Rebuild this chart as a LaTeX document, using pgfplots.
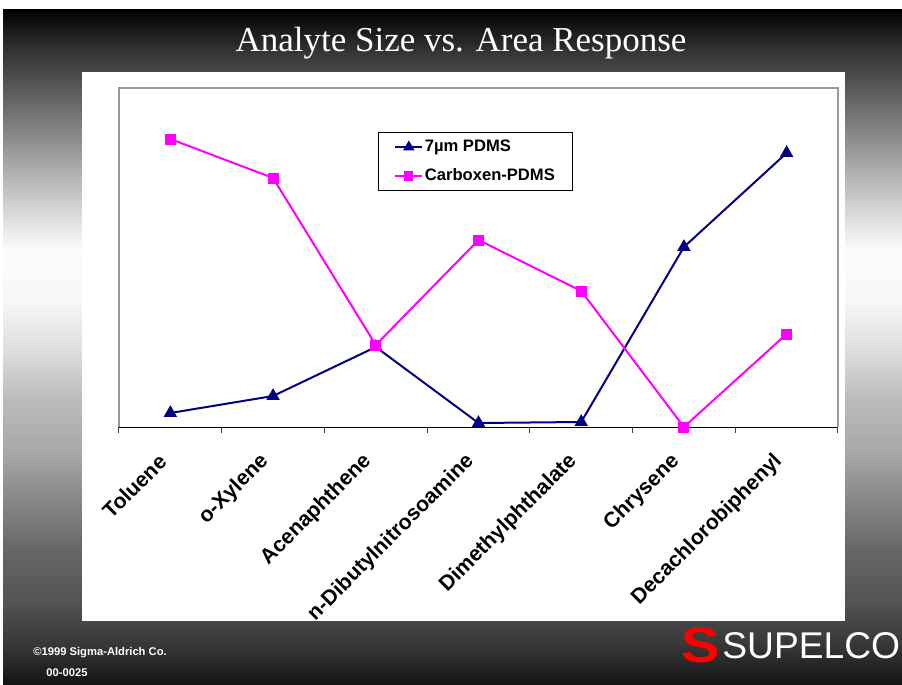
\documentclass[border=0pt]{standalone}
\usepackage{fontspec}
\setmainfont{Liberation Sans}
\newfontfamily\titlefont{Liberation Serif}
\usepackage{pgfplots}
\pgfplotsset{compat=1.18}
\definecolor{pdms}{HTML}{000080}
\definecolor{carb}{HTML}{FF00FF}

\begin{document}
\begin{tikzpicture}
% slide background, pixel units (y down)
\begin{scope}[x=0.5pt,y=-0.5pt]
\useasboundingbox (0,0) rectangle (902,685);
\fill[white] (0,0) rectangle (902,685);
\foreach \ya/\ga/\yb/\gb in {9/100/50/80, 50/80/100/60, 100/60/150/40, 150/40/200/20,
    200/20/250/1, 250/1/300/3, 300/3/350/13, 350/13/400/27, 400/27/450/34,
    450/34/500/47, 500/47/550/60, 550/60/600/67, 600/67/650/80, 650/80/685/93}
  \shade[top color=black!\ga, bottom color=black!\gb] (3,\ya) rectangle (902,\yb+0.6);
\fill[white] (82,72) rectangle (845,621);
\node[white, anchor=base, inner sep=0pt, font=\titlefont\fontsize{17.5pt}{21pt}\selectfont]
  at (461,52) {Analyte Size vs. Area Response};
\node[white, anchor=west, inner sep=0pt, font=\bfseries\fontsize{5.6pt}{7pt}\selectfont]
  at (33,653) {©1999 Sigma-Aldrich Co.};
\node[white, anchor=west, inner sep=0pt, font=\bfseries\fontsize{5.6pt}{7pt}\selectfont]
  at (46,673) {00-0025};
\node[red, inner sep=0pt, xscale=1.15, font=\bfseries\fontsize{25pt}{28pt}\selectfont] at (701,645) {S};
\node[white, anchor=west, inner sep=0pt, font=\fontsize{18.6pt}{22pt}\selectfont]
  at (722,646) {SUPELCO};
\end{scope}

\begin{axis}[
  at={(59.5pt,-213.5pt)}, anchor=south west,
  scale only axis, width=359.5pt, height=169.5pt,
  xmin=-0.5, xmax=6.5, ymin=0, ymax=339,
  axis x line=bottom, axis y line=none,
  x axis line style={-, black, line width=0.5pt},
  xtick={0,1,2,3,4,5,6},
  xticklabels={Toluene,o-Xylene,Acenaphthene,n-Dibutylnitrosoamine,Dimethylphthalate,Chrysene,Decachlorobiphenyl},
  major tick length=0pt,
  extra x ticks={-0.5,0.5,1.5,2.5,3.5,4.5,5.5,6.5}, extra x tick labels={},
  extra x tick style={major tick length=3pt, tick align=outside,
    tick style={black!75, line width=0.5pt}},
  x tick label style={xshift=-3.8pt, yshift=-15.5pt, rotate=45, anchor=east, inner sep=0pt,
    font=\bfseries\fontsize{10.6pt}{13pt}\selectfont},
  ytick=\empty,
  clip=false,
  legend style={at={(0.36,0.87)}, anchor=north west, draw=black, line width=0.5pt,
    inner xsep=8pt, inner ysep=2.4pt, row sep=4.8pt,
    font=\bfseries\fontsize{8.3pt}{10pt}\selectfont,
    nodes={inner xsep=0.75pt, inner ysep=1pt, text height=6.2pt, text depth=1.5pt}},
  legend cell align=left,
  legend image code/.code={\draw[mark repeat=2,mark phase=2]
    plot coordinates {(0pt,0pt) (6.75pt,0pt) (13.5pt,0pt)};},
  legend image post style={mark options={scale=0.8}},
]
\draw[black!40, line width=0.75pt] (rel axis cs:0,0) -- (rel axis cs:0,1)
  -- (rel axis cs:1,1) -- (rel axis cs:1,0);
\addplot[color=pdms, line width=1pt, mark=triangle*, mark size=2.9pt]
  coordinates {(0,14) (1,31) (2,80) (3,4) (4,5) (5,180) (6,274)};
\addlegendentry{7µm PDMS}
\addplot[color=carb, line width=1pt, mark=square*, mark size=2.25pt]
  coordinates {(0,288) (1,249) (2,82) (3,187) (4,136) (5,0) (6,93)};
\addlegendentry{Carboxen-PDMS}
\end{axis}
\end{tikzpicture}
\end{document}
